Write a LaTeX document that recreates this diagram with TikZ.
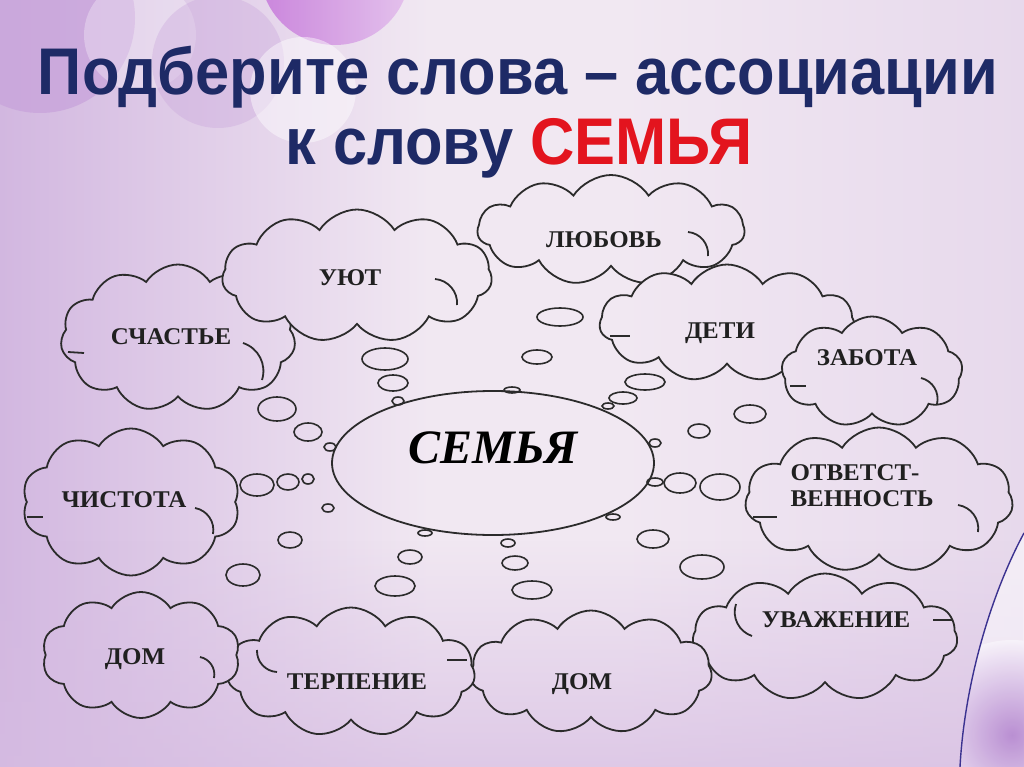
\documentclass[tikz,border=0pt]{standalone}
\usepackage{fontspec}
\setmainfont{Liberation Serif}
\newfontfamily\titlefont{Liberation Sans}
\usetikzlibrary{shapes.symbols,shapes.geometric,fadings}
\definecolor{bgbase}{HTML}{F1E8F2}
\definecolor{bgleft}{HTML}{D2B7E0}
\definecolor{bgright}{HTML}{E7D9EC}
\definecolor{bgbottom}{HTML}{D6BCE2}
\definecolor{navy}{HTML}{1E2A66}
\definecolor{titlered}{HTML}{E3141E}
\definecolor{ink}{HTML}{2B2B2B}
\definecolor{wordink}{HTML}{202020}
\definecolor{circA}{HTML}{C8A3DB}
\definecolor{circM}{HTML}{C678DA}
\definecolor{circM2}{HTML}{E2BCEC}
\definecolor{blob}{HTML}{B486CF}
\definecolor{panelline}{HTML}{3B3290}
\tikzfading[name=fadeup, top color=transparent!100, bottom color=transparent!0]
\newcommand\paintbg{%
  \fill[bgbase] (bgA) rectangle (bgB);
  \shade[left color=bgleft, right color=bgbase] (bgA) rectangle (bgL);
  \shade[left color=bgbase, right color=bgright] (bgR) rectangle (bgB);
  \fill[bgbottom, path fading=fadeup, opacity=.7] (bgS) rectangle (bgB);
}
\begin{document}
\begin{tikzpicture}[x=1pt,y=-1pt,
  cloudbox/.style={cloud, cloud puffs=11, cloud puff arc=115, cloud ignores aspect,
    draw=ink, line width=1.8pt, inner sep=0pt, path picture={\paintbg}},
  innerarc/.style={draw=ink, line width=1.8pt},
  word/.style={font=\bfseries\fontsize{24}{26}\selectfont, text=wordink, xscale=1.04},
  bubble/.style={draw=ink, line width=1.6pt},
  titletext/.style={font=\titlefont\bfseries\fontsize{66}{70}\selectfont, anchor=base, xscale=0.93}]
\coordinate (bgA) at (0,0);
\coordinate (bgB) at (1024,767);
\coordinate (bgL) at (430,767);
\coordinate (bgR) at (620,0);
\coordinate (bgS) at (0,540);
\useasboundingbox (0,0) rectangle (1024,767);
\paintbg
% decorative circles
\fill[circA, opacity=.75] (40,18) circle (95);
\fill[white, opacity=.3] (140,35) circle (56);
\fill[circA, opacity=.35] (218,62) circle (66);
\shade[left color=circM, right color=circM2, opacity=.85] (335,-30) circle (75);
\fill[white, opacity=.45] (303,90) circle (53);
% right bottom panel
\coordinate (pA) at (1024,533);
\coordinate (pB) at (960,767);
\begin{scope}
\clip (pA) .. controls (988,600) and (964,690) .. (pB) -- (1024,767) -- cycle;
\fill[white, opacity=.55] (940,520) rectangle (1024,767);
\shade[inner color=blob, outer color=blob!10!white, opacity=.9] (1012,735) circle (95);
\end{scope}
\draw[draw=panelline, line width=1.4pt] (pA) .. controls (988,600) and (964,690) .. (pB);
% title
\node[titletext, text=navy] (title1) at (518,95) {Подберите слова – ассоциации};
\node[titletext, text=navy] (title2) at (519,165) {к слову \textcolor{titlered}{СЕМЬЯ}};
% bubbles
\foreach \x/\y/\a/\b in {385/359/23/11, 393/383/15/8, 398/401/6/4, 277/409/19/12, 308/432/14/9,
  330/447/6/4, 560/317/23/9, 537/357/15/7, 645/382/20/8, 623/398/14/6, 608/406/6/3,
  750/414/16/9, 699/431/11/7, 655/443/6/4, 512/390/8/3, 257/485/17/11, 288/482/11/8,
  308/479/6/5, 328/508/6/4, 290/540/12/8, 243/575/17/11, 425/533/7/3, 410/557/12/7,
  395/586/20/10, 508/543/7/4, 515/563/13/7, 532/590/20/9, 655/482/8/4, 680/483/16/10,
  720/487/20/13, 613/517/7/3, 653/539/16/9, 702/567/22/12}
  \draw[bubble] (\x,\y) ellipse [x radius=\a, y radius=\b];
% central ellipse
\node[ellipse, draw=ink, line width=1.8pt, minimum width=322pt, minimum height=144pt, inner sep=0pt] (semya) at (493,463) {};
\node[font=\bfseries\itshape\fontsize{48}{50}\selectfont, text=black] (semyaT) at (493,448) {СЕМЬЯ};
% clouds
\node[cloudbox, minimum width=235pt, minimum height=147pt] (c1) at (178,338) {};
\node[cloudbox, minimum width=270pt, minimum height=133pt] (c2) at (357,276) {};
\node[cloudbox, minimum width=267pt, minimum height=110pt] (c3) at (611,230) {};
\node[cloudbox, minimum width=255pt, minimum height=117pt] (c4) at (727,323) {};
\node[cloudbox, minimum width=181pt, minimum height=111pt, cloud puffs=9] (c5) at (872,372) {};
\node[cloudbox, minimum width=268pt, minimum height=145pt] (c6) at (879,500) {};
\node[cloudbox, minimum width=265pt, minimum height=127pt] (c7) at (825,637) {};
\node[cloudbox, minimum width=242pt, minimum height=123pt] (c8) at (591,672) {};
\node[cloudbox, minimum width=248pt, minimum height=129pt] (c9) at (351,672) {};
\node[cloudbox, minimum width=198pt, minimum height=126pt, cloud puffs=10] (c10) at (141,655) {};
\node[cloudbox, minimum width=218pt, minimum height=147pt, cloud puffs=10] (c11) at (131,502) {};
% inner arcs of the clouds
\draw[innerarc] (243,343) to[bend left=45] (262,380);
\draw[innerarc] (435,279) to[bend left=45] (457,305);
\draw[innerarc] (688,232) to[bend left=45] (708,256);
\draw[innerarc] (921,378) to[bend left=45] (937,404);
\draw[innerarc] (958,505) to[bend left=45] (978,532);
\draw[innerarc] (200,657) to[bend left=45] (214,678);
\draw[innerarc] (195,508) to[bend left=45] (213,534);
\draw[innerarc] (736,604) to[bend right=45] (752,636);
\draw[innerarc] (257,650) to[bend right=45] (277,672);
\draw[innerarc] (610,336) -- (630,336);
\draw[innerarc] (790,386) -- (806,386);
\draw[innerarc] (753,517) -- (777,517);
\draw[innerarc] (933,620) -- (953,620);
\draw[innerarc] (447,660) -- (467,660);
\draw[innerarc] (27,517) -- (43,517);
\draw[innerarc] (68,352) -- (84,353);
% words
\node[word] (w1) at (171,337) {СЧАСТЬЕ};
\node[word] (w2) at (350,278) {УЮТ};
\node[word] (w3) at (604,240) {ЛЮБОВЬ};
\node[word] (w4) at (720,333) {ДЕТИ};
\node[word] (w5) at (867,358) {ЗАБОТА};
\node[word, align=left] (w6) at (862,486) {ОТВЕТСТ-\\ВЕННОСТЬ};
\node[word] (w7) at (836,620) {УВАЖЕНИЕ};
\node[word] (w8) at (582,684) {ДОМ};
\node[word] (w9) at (357,682) {ТЕРПЕНИЕ};
\node[word] (w10) at (135,659) {ДОМ};
\node[word] (w11) at (124,500) {ЧИСТОТА};
\end{tikzpicture}
\end{document}
